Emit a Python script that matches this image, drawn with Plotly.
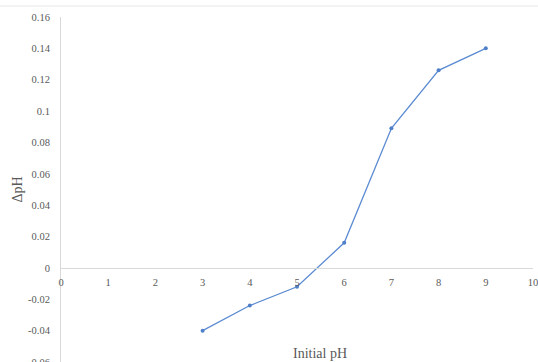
import plotly.graph_objects as go

initial_ph = [3, 4, 5, 6, 7, 8, 9]
delta_ph = [-0.040, -0.024, -0.012, 0.016, 0.089, 0.126, 0.140]
x_ticks = list(range(0, 11))
y_ticks = [-0.06, -0.04, -0.02, 0, 0.02, 0.04, 0.06, 0.08, 0.1, 0.12, 0.14, 0.16]
y_tick_labels = ["-0.06", "-0.04", "-0.02", "0", "0.02", "0.04", "0.06", "0.08", "0.1", "0.12", "0.14", "0.16"]

Y_MIN, Y_MAX = -0.06, 0.16
W, H = 538, 362
ML, MR, MT, MB = 61, 5, 17, 0
pw, ph = W - ML - MR, H - MT - MB

font_family = "Liberation Serif, Times New Roman, serif"
gray = "#595959"
axis_gray = "#d9d9d9"
blue = "#5b8bd2"

fig = go.Figure()
fig.add_trace(go.Scatter(
    x=initial_ph, y=delta_ph, mode="lines+markers",
    line=dict(color=blue, width=1.3),
    marker=dict(color="#4f7fc8", size=4),
    showlegend=False,
))

fig.update_layout(
    width=W, height=H,
    margin=dict(l=ML, r=MR, t=MT, b=MB),
    paper_bgcolor="white", plot_bgcolor="white",
    font=dict(family=font_family, color=gray, size=10.5),
    xaxis=dict(
        range=[0, 10], tickvals=x_ticks, ticktext=[str(v) for v in x_ticks],
        showgrid=False, zeroline=False, showline=True, linecolor=axis_gray, linewidth=1,
        anchor="free", position=(0 - Y_MIN) / (Y_MAX - Y_MIN),
        ticks="", ticklabelstandoff=4, ticklabeloverflow="allow", automargin=False,
        tickfont=dict(family=font_family, color=gray, size=10.5),
    ),
    yaxis=dict(
        range=[Y_MIN, Y_MAX], tickvals=y_ticks, ticktext=y_tick_labels,
        showgrid=False, zeroline=False, showline=True, linecolor=axis_gray, linewidth=1,
        ticks="", ticklabelstandoff=8, ticklabeloverflow="allow", automargin=False,
        tickfont=dict(family=font_family, color=gray, size=10.5),
        title=dict(text="ΔpH", font=dict(family=font_family, color=gray, size=14), standoff=2),
    ),
    annotations=[dict(
        text="Initial pH", xref="paper", yref="paper",
        x=(320 - ML) / pw, y=(H - 353 - MB) / ph,
        showarrow=False, xanchor="center", yanchor="middle",
        font=dict(family=font_family, color=gray, size=14),
    )],
    shapes=[dict(
        type="line", xref="paper", yref="paper",
        x0=(0 - ML) / pw, x1=(W - ML) / pw,
        y0=(H - 6 - MB) / ph, y1=(H - 6 - MB) / ph,
        line=dict(color="#e6e6e6", width=1),
    )],
)

fig.write_html("out.html")
